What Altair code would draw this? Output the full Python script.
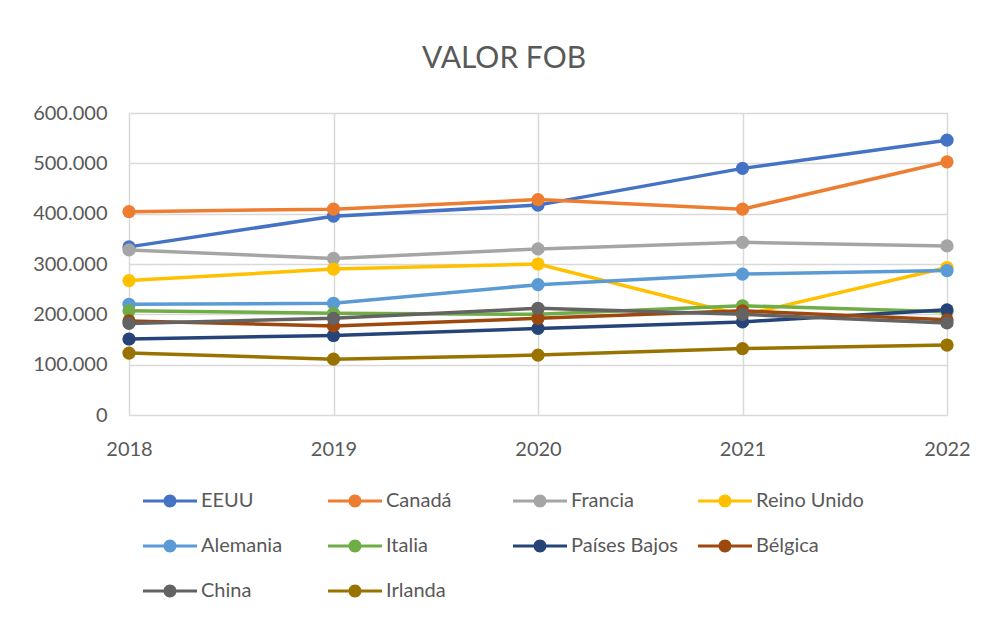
import altair as alt
import pandas as pd

years = ["2018", "2019", "2020", "2021", "2022"]
countries = ["EEUU", "Canadá", "Francia", "Reino Unido", "Alemania",
             "Italia", "Países Bajos", "Bélgica", "China", "Irlanda"]
colors = ["#4472C4", "#ED7D31", "#A5A5A5", "#FFC000", "#5B9BD5",
          "#70AD47", "#264478", "#9E480E", "#636363", "#997300"]

eeuu = [334000, 395000, 417000, 490000, 546000]
canada = [404000, 409000, 428000, 409000, 503000]
francia = [328000, 311000, 330000, 343000, 336000]
reino_unido = [267000, 290000, 300000, 198000, 293000]
alemania = [220000, 222000, 259000, 280000, 287000]
italia = [207000, 202000, 200000, 217000, 205000]
paises_bajos = [151000, 158000, 172000, 185000, 209000]
belgica = [187000, 177000, 192000, 207000, 189000]
china = [182000, 192000, 212000, 200000, 183000]
irlanda = [123000, 111000, 119000, 132000, 139000]

y_ticks = [0, 100000, 200000, 300000, 400000, 500000, 600000]

series = [eeuu, canada, francia, reino_unido, alemania,
          italia, paises_bajos, belgica, china, irlanda]
rows = []
for ci, (name, vals) in enumerate(zip(countries, series)):
    for yr, v in zip(years, vals):
        rows.append({"Año": yr, "País": name, "Valor": v, "orden": ci})
df = pd.DataFrame(rows)

FONT = "Lato"
TXT = "#595959"
GRID = "#D9D9D9"

legend_path = ("M-2.7,-0.15 L2.7,-0.15 L2.7,0.15 L-2.7,0.15 Z "
               "M-0.65,0 A0.65,0.65 0 1,1 0.65,0 A0.65,0.65 0 1,1 -0.65,0 Z")

x_enc = alt.X("Año:O", scale=alt.Scale(type="point", padding=0),
              axis=alt.Axis(title=None, labelAngle=0, ticks=False, domain=False,
                            grid=True, gridColor=GRID, gridWidth=1.5,
                            labelFont=FONT, labelFontSize=20, labelColor=TXT,
                            labelPadding=24))
y_enc = alt.Y("Valor:Q", scale=alt.Scale(domain=[0, 600000], nice=False),
              axis=alt.Axis(title=None, values=y_ticks, ticks=False, domain=False,
                            grid=True, gridColor=GRID, gridWidth=1.5,
                            labelFont=FONT, labelFontSize=20, labelColor=TXT,
                            labelPadding=22,
                            labelExpr="replace(format(datum.value, ','), ',', '.')"))

color_scale = alt.Scale(domain=countries, range=colors)
legend = alt.Legend(title=None, orient="none", legendX=31, legendY=378,
                    direction="horizontal", columns=4,
                    gridAlign="all", columnPadding=19, rowPadding=25,
                    symbolType=legend_path, symbolSize=400,
                    symbolStrokeWidth=0, symbolOpacity=1,
                    labelOffset=21, labelFont=FONT,
                    labelFontSize=20, labelColor=TXT,
                    labelLimit=300, padding=0)

points = alt.Chart(df).mark_point(filled=True, size=175, opacity=1).encode(
    x=x_enc, y=y_enc,
    color=alt.Color("País:N", scale=color_scale, sort=countries, legend=legend),
)

lines = alt.Chart(df).mark_line(strokeWidth=3.5).encode(
    x=x_enc, y=y_enc,
    color=alt.Color("País:N", scale=color_scale, sort=countries, legend=legend),
    order=alt.Order("Año:O"),
)

chart = alt.layer(lines, points).properties(
    width=818, height=302,
    title=alt.TitleParams("VALOR FOB", font=FONT, fontSize=30, fontWeight="normal",
                          color=TXT, anchor="middle", frame="group", dx=-34,
                          baseline="alphabetic", offset=5),
    autosize=alt.AutoSizeParams(type="none"),
    padding={"left": 121, "top": 105, "right": 30, "bottom": 197},
).configure_view(stroke=None).configure(background="white")

chart.save("out.html", embed_options={"renderer": "svg", "actions": False})
